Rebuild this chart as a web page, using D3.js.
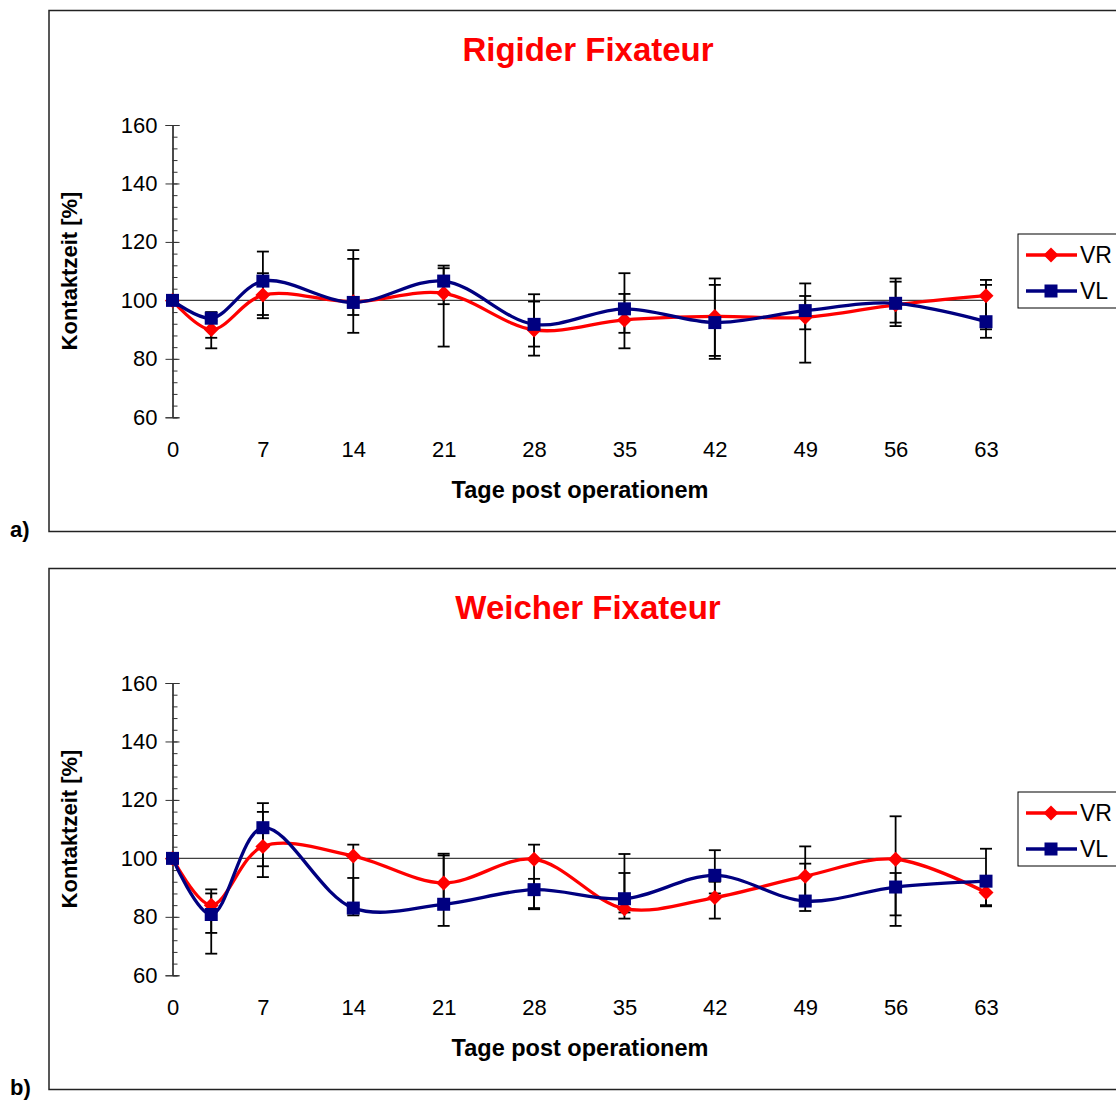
<!DOCTYPE html>
<html>
<head>
<meta charset="utf-8">
<script src="https://cdn.jsdelivr.net/npm/d3@7"></script>
<style>
  body { margin: 0; background: #fff; }
  svg { display: block; font-family: "Liberation Sans", Arial, sans-serif; }
</style>
</head>
<body>
<div id="chart"></div>
<script>
// Tage der Messungen
const days = [0, 3, 7, 14, 21, 28, 35, 42, 49, 56, 63];
const xTicks = [0, 7, 14, 21, 28, 35, 42, 49, 56, 63];
const yTicks = [60, 80, 100, 120, 140, 160];
const seriesNames = ["VR", "VL"];

// a) Rigider Fixateur
const vrA   = [100, 90.0, 101.8, 99.5, 102.4, 89.9, 93.3, 94.5, 94.2, 98.5, 101.6];
const vrHiA = [null, 93.0, 109.3, 114.2, 111.0, 102.1, 102.2, 105.3, 101.5, 106.4, 107.0];
const vrLoA = [null, 83.6, 93.9, 95.0, 98.7, 81.1, 88.9, 81.0, 78.7, 91.2, 90.1];
const vlA   = [100, 93.9, 106.6, 99.3, 106.6, 91.8, 97.1, 92.4, 96.5, 99.0, 92.7];
const vlHiA = [null, 96.0, 116.7, 117.2, 111.9, 99.6, 109.3, 107.5, 105.8, 107.5, 105.3];
const vlLoA = [null, 87.2, 95.0, 88.9, 84.2, 84.2, 83.6, 80.0, 90.1, 92.4, 87.2];

// b) Weicher Fixateur
const vrB   = [100, 84.0, 104.1, 100.8, 91.6, 99.7, 82.8, 86.6, 93.9, 99.7, 88.3];
const vrHiB = [null, 89.4, 115.9, 104.7, 101.6, 104.7, 95.0, 92.0, 104.1, 114.4, 92.0];
const vrLoB = [null, 74.5, 93.6, 84.0, 85.0, 83.0, 79.4, 79.4, 84.0, 80.5, 83.6];
const vlB   = [100, 80.8, 110.5, 83.0, 84.3, 89.3, 86.2, 94.2, 85.4, 90.2, 92.2];
const vlHiB = [null, 88.0, 118.9, 93.3, 101.0, 93.0, 101.5, 102.8, 98.2, 95.0, 103.3];
const vlLoB = [null, 67.4, 97.3, 80.5, 76.9, 82.6, 81.5, 88.0, 82.0, 76.9, 84.0];

const colors = { VR: "#ff0000", VL: "#000080" };

const width = 1116, height = 1101;
const svg = d3.select("#chart").append("svg")
    .attr("width", width)
    .attr("height", height);

const x = d3.scaleLinear().domain([0, 63]).range([172.5, 986]);
const y = d3.scaleLinear().domain([60, 160]).range([417.3, 125]);

const line = d3.line()
    .x(d => x(d.day))
    .y(d => y(d.v))
    .curve(d3.curveCatmullRom);

const diamond = "M0,-7.5L7.5,0L0,7.5L-7.5,0Z";

function drawPanel(offsetY, label, title, series) {
    const g = svg.append("g").attr("transform", `translate(0, ${offsetY})`);

    // Rahmen
    g.append("rect")
        .attr("x", 49).attr("y", 10.5)
        .attr("width", 1100).attr("height", 521)
        .attr("fill", "none")
        .attr("stroke", "#222")
        .attr("stroke-width", 1.5);

    g.append("text")
        .attr("x", 10).attr("y", 537)
        .style("font-size", "22px")
        .style("font-weight", "bold")
        .text(label);

    // Titel
    g.append("text")
        .attr("x", 588).attr("y", 61)
        .attr("text-anchor", "middle")
        .style("font-size", "33px")
        .style("font-weight", "bold")
        .style("fill", "#ff0000")
        .text(title);

    // Y-Achse
    const yAxis = g.append("g")
        .attr("transform", `translate(${x(0)}, 0)`)
        .call(d3.axisLeft(y).tickValues(yTicks).tickSize(7).tickPadding(8));
    yAxis.selectAll("text").style("font-size", "22px").attr("fill", "#000");

    g.append("g")
        .attr("transform", `translate(${x(0)}, 0)`)
        .call(d3.axisRight(y).tickValues(d3.range(60, 161, 4)).tickSize(5).tickFormat(""));
    g.append("g")
        .attr("transform", `translate(${x(0)}, 0)`)
        .call(d3.axisRight(y).tickValues(yTicks).tickSize(7).tickFormat(""));
    g.selectAll(".domain").attr("stroke", "#333");
    g.selectAll(".tick line").attr("stroke", "#333");

    // X-Beschriftung
    const xAxis = g.append("g")
        .attr("transform", `translate(0, ${y(60)})`)
        .call(d3.axisBottom(x).tickValues(xTicks).tickSize(0).tickPadding(24));
    xAxis.select(".domain").remove();
    xAxis.selectAll("text").style("font-size", "22px").attr("fill", "#000");

    // Achse bei 100
    g.append("line")
        .attr("x1", x(0)).attr("x2", x(63))
        .attr("y1", y(100)).attr("y2", y(100))
        .attr("stroke", "#404040")
        .attr("stroke-width", 1.2);

    // Achsentitel
    g.append("text")
        .attr("x", 580).attr("y", 498)
        .attr("text-anchor", "middle")
        .style("font-size", "23.5px")
        .style("font-weight", "bold")
        .text("Tage post operationem");

    g.append("text")
        .attr("transform", "translate(77, 271) rotate(-90)")
        .attr("text-anchor", "middle")
        .style("font-size", "22px")
        .style("font-weight", "bold")
        .text("Kontaktzeit [%]");

    // Fehlerbalken
    series.forEach(s => {
        const bars = days.map((d, i) => ({ day: d, hi: s.hi[i], lo: s.lo[i] }))
            .filter(d => d.hi != null);
        const eb = g.append("g")
            .attr("stroke", "#000")
            .attr("stroke-width", 1.8);
        bars.forEach(b => {
            eb.append("line")
                .attr("x1", x(b.day)).attr("x2", x(b.day))
                .attr("y1", y(b.hi)).attr("y2", y(b.lo));
            [b.hi, b.lo].forEach(v => {
                eb.append("line")
                    .attr("x1", x(b.day) - 6).attr("x2", x(b.day) + 6)
                    .attr("y1", y(v)).attr("y2", y(v));
            });
        });
    });

    // Linien und Marker
    series.forEach(s => {
        const pts = days.map((d, i) => ({ day: d, v: s.values[i] }));
        g.append("path")
            .datum(pts)
            .attr("fill", "none")
            .attr("stroke", colors[s.name])
            .attr("stroke-width", 3.3)
            .attr("d", line);

        const m = g.append("g").attr("fill", colors[s.name]);
        pts.forEach(p => {
            if (s.name === "VR") {
                m.append("path")
                    .attr("transform", `translate(${x(p.day)}, ${y(p.v)})`)
                    .attr("d", diamond);
            } else {
                m.append("rect")
                    .attr("x", x(p.day) - 6.5).attr("y", y(p.v) - 6.5)
                    .attr("width", 13).attr("height", 13);
            }
        });
    });

    // Legende
    const legend = g.append("g").attr("transform", "translate(1018, 234)");
    legend.append("rect")
        .attr("width", 120).attr("height", 74)
        .attr("fill", "#fff")
        .attr("stroke", "#000")
        .attr("stroke-width", 1);
    seriesNames.forEach((name, i) => {
        const ly = 21 + i * 36;
        legend.append("line")
            .attr("x1", 8).attr("x2", 59)
            .attr("y1", ly).attr("y2", ly)
            .attr("stroke", colors[name])
            .attr("stroke-width", 3.3);
        if (name === "VR") {
            legend.append("path")
                .attr("transform", `translate(33, ${ly})`)
                .attr("d", diamond)
                .attr("fill", colors[name]);
        } else {
            legend.append("rect")
                .attr("x", 26.5).attr("y", ly - 6.5)
                .attr("width", 13).attr("height", 13)
                .attr("fill", colors[name]);
        }
        legend.append("text")
            .attr("x", 62).attr("y", ly + 8)
            .style("font-size", "23px")
            .text(name);
    });
}

drawPanel(0, "a)", "Rigider Fixateur", [
    { name: "VR", values: vrA, hi: vrHiA, lo: vrLoA },
    { name: "VL", values: vlA, hi: vlHiA, lo: vlLoA }
]);

drawPanel(558, "b)", "Weicher Fixateur", [
    { name: "VR", values: vrB, hi: vrHiB, lo: vrLoB },
    { name: "VL", values: vlB, hi: vlHiB, lo: vlLoB }
]);
</script>
</body>
</html>
